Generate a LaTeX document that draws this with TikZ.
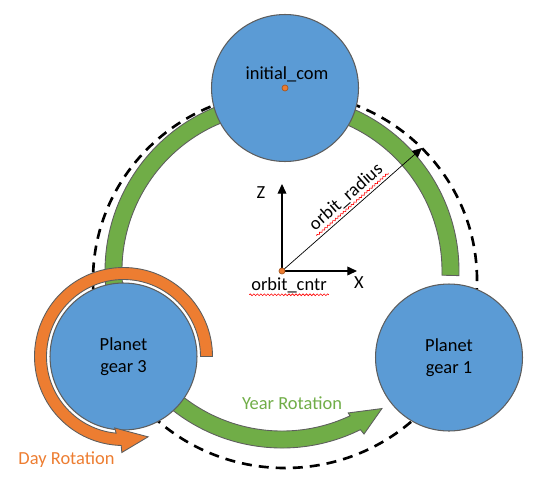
\documentclass[tikz,border=0pt]{standalone}
\usepackage{fontspec}
\setmainfont{Carlito}
\usetikzlibrary{arrows.meta,decorations.pathmorphing}
\definecolor{gearblue}{HTML}{5B9BD5}
\definecolor{yeargreen}{HTML}{70AD47}
\definecolor{dayorange}{HTML}{ED7D31}
\definecolor{edgegray}{HTML}{5E5E5E}
\tikzset{
  gear/.style={circle,draw=edgegray,fill=gearblue,line width=0.6pt,minimum size=2.94cm,inner sep=0pt,align=center},
  yearband/.style={draw=edgegray,fill=yeargreen,line width=0.5pt},
  dayband/.style={draw=edgegray,fill=dayorange,line width=0.5pt},
  orbitpath/.style={line width=1.5pt,dash pattern=on 5.7pt off 4pt},
  dot/.style={circle,draw=dayorange!70!black,fill=dayorange,line width=0.4pt,minimum size=0.12cm,inner sep=0pt},
  axis/.style={line width=0.6pt},
  spellmark/.style={draw=red,line width=0.35pt,decorate,decoration={snake,amplitude=0.5pt,segment length=2pt}}
}

\begin{document}
\begin{tikzpicture}[x=0.02cm,y=0.02cm,font=\fontsize{10.5}{12.5}\selectfont,
  >={Triangle[length=5.5pt,width=5pt]}]
  \useasboundingbox (0,0) rectangle (550,481);

    % -- Dashed orbit (under everything) --
    \draw[orbitpath] (285,201) ellipse [x radius=192, y radius=188];

    % -- Year rotation bands round the orbit centre --
    \begin{scope}[shift={(282,210)}]
      % top band, from gear 3 over the top to gear 1
      \filldraw[yearband] (-1.5:177) arc[start angle=-1.5,end angle=195,radius=177]
        -- (195:160) arc[start angle=195,end angle=-1.5,radius=160] -- cycle;
      % bottom band with its head
      \filldraw[yearband] (215:177) arc[start angle=215,end angle=296.3,radius=177]
        -- (296.7:182.5) -- (306:170) -- (295:156.6)
        -- (295.2:160) arc[start angle=295.2,end angle=215,radius=160] -- cycle;
    \end{scope}

    % -- The three gears --
    \node[gear] (initcom) at (285,393) {};
    \node[gear] (gear1) at (449,123.5) {Planet\\gear 1};
    \node[gear] (gear3) at (123.5,124.5) {Planet\\gear 3};

    % -- Day rotation round gear 3 --
    \begin{scope}[shift={(123.5,124.5)}]
      \filldraw[dayband] (0:89) arc[start angle=0,end angle=268.5,radius=89]
        -- (269:96) -- (287:84) -- (263:72)
        -- (264.5:77) arc[start angle=264.5,end angle=0,radius=77] -- cycle;
    \end{scope}

    % -- Frame at the orbit centre --
    \coordinate (cntr) at (282,210);
    \coordinate (ztip) at (282,297);
    \coordinate (xtip) at (357,210);
    \coordinate (radtip) at (422,333);
    \draw[axis,->] (cntr) -- (ztip);
    \draw[axis,->] (cntr) -- (xtip);
    \draw[->,line width=0.4pt] (cntr) -- node[sloped,above=2pt,pos=0.52,inner sep=1pt] (radtxt) {orbit\_radius} (radtip);
    \node[dot] (cntrdot) at (cntr) {};
    \node[dot] (comdot) at (initcom.center) {};

    % -- Labels --
    \node (comtxt) at (287,407) {initial\_com};
    \node (zlabel) at (261,288) {Z};
    \node (xlabel) at (359,198) {X};
    \node[inner sep=1pt] (cntrtxt) at (289,196) {orbit\_cntr};
    \node[text=yeargreen] (yeartxt) at (292,78) {Year Rotation};
    \node[text=dayorange] (daytxt) at (66.5,21) {Day Rotation};

    % -- spell-check marks under the two names --
    \draw[spellmark] (radtxt.south west) -- (radtxt.south east);
    \draw[spellmark] (cntrtxt.south west) -- (cntrtxt.south east);

\end{tikzpicture}
\end{document}
